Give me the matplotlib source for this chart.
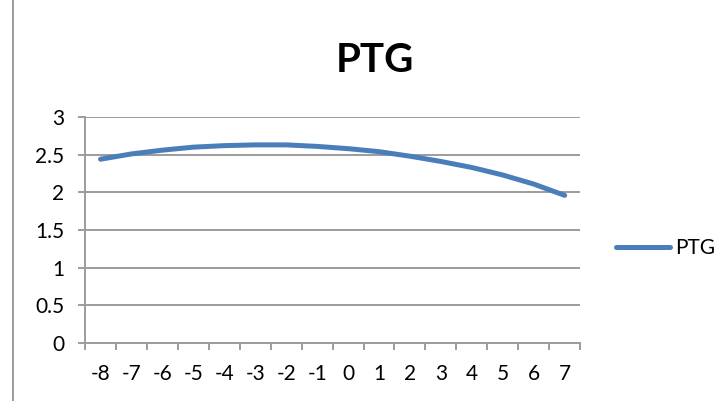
import matplotlib
matplotlib.use('Agg')
import matplotlib.pyplot as plt
from matplotlib.lines import Line2D

plt.rcParams['font.family'] = ['Lato', 'DejaVu Sans']

# data
categories = ['-8', '-7', '-6', '-5', '-4', '-3', '-2', '-1',
              '0', '1', '2', '3', '4', '5', '6', '7']
ptg = [2.44, 2.51, 2.56, 2.60, 2.62, 2.63, 2.63, 2.61,
       2.58, 2.54, 2.48, 2.41, 2.33, 2.23, 2.11, 1.96]
yticks = [0, 0.5, 1, 1.5, 2, 2.5, 3]
ytick_labels = ['0', '0.5', '1', '1.5', '2', '2.5', '3']

grid_col = '#9c9c9c'
line_col = '#4a7ebb'

fig = plt.figure(figsize=(7.27, 4.01), dpi=100)
ax = fig.add_axes([0.117, 0.1446, 0.681, 0.5636])

x = list(range(len(categories)))
ax.plot(x, ptg, color=line_col, lw=3.6, solid_capstyle='round',
        solid_joinstyle='round', label='PTG')

ax.set_xlim(-0.5, len(categories) - 0.5)
ax.set_ylim(0, 3)
ax.set_yticks(yticks)
ax.set_yticklabels(ytick_labels)
ax.set_xticks(x)
ax.set_xticklabels(categories)
ax.set_xticks([i - 0.5 for i in range(len(categories) + 1)], minor=True)

ax.yaxis.grid(True, color=grid_col, lw=1.4)
ax.set_axisbelow(True)
for s in ['top', 'right']:
    ax.spines[s].set_visible(False)
for s in ['left', 'bottom']:
    ax.spines[s].set_color(grid_col)
    ax.spines[s].set_linewidth(1.4)

ax.tick_params(axis='y', length=5, width=1.4, color=grid_col, pad=10,
               labelsize=15)
ax.tick_params(axis='x', which='major', length=0, pad=15, labelsize=15)
ax.tick_params(axis='x', which='minor', length=5, width=1.4, color=grid_col)

fig.text(0.516, 0.85, 'PTG', ha='center', va='center', fontsize=29,
         fontweight='bold')

ax.legend(loc='center left', bbox_to_anchor=(1.035, 0.42), frameon=False,
          fontsize=15, handlelength=2.6, handletextpad=0.25)

# thin border line at the left edge of the picture
fig.add_artist(Line2D([0.018, 0.018], [0, 1], color=grid_col, lw=1.4,
                      transform=fig.transFigure))

fig.savefig('out.png', dpi=100)
